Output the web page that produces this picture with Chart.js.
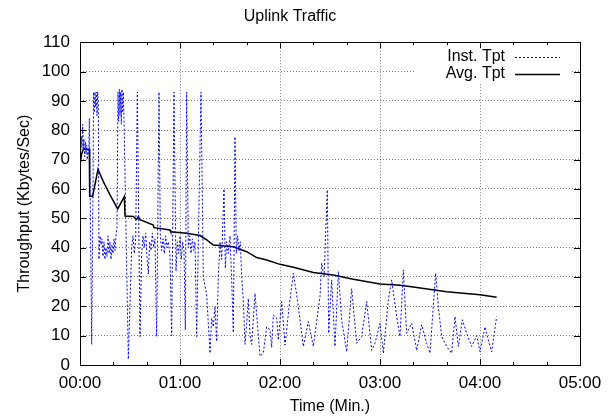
<!DOCTYPE html>
<html>
<head>
<meta charset="utf-8">
<script src="https://cdn.jsdelivr.net/npm/chart.js@4.4.0/dist/chart.umd.min.js"></script>
<style>
    body {
        margin: 0;
        background: #fff;
    }
    .container {
        width: 616px;
        height: 416px;
    }
</style>
</head>
<body>
<div class="container">
    <canvas id="myChart" width="616" height="416"></canvas>
</div>
<script>
    // time in seconds, throughput in Kbytes/Sec
    const instTime = [
        0, 0.4, 0.8, 1.2, 1.6, 2, 2.4, 2.8, 3.2, 3.6,
        4, 4.4, 4.8, 5.2, 5.6, 6, 7, 7.8, 8.2, 8.6,
        9, 9.4, 9.8, 10.2, 10.6, 11, 11.4, 12, 12.6, 13.2,
        13.8, 14.4, 15, 15.6, 16.2, 16.8, 17.4, 18, 18.6, 19.2,
        19.8, 20.4, 21, 21.6, 22.2, 22.8, 23.2, 23.6, 24, 24.4,
        24.8, 25.2, 25.6, 26, 26.4, 29, 31, 31.8, 32.6, 33.4,
        34.4, 36, 37, 37.8, 38.6, 39.4, 40.2, 41, 41.8, 42.6,
        43.4, 44.2, 45, 46, 47.4, 48.2, 49, 49.8, 50.6, 51.4,
        52.2, 53, 54, 55, 56.4, 57.6, 58.4, 59.2, 60, 60.8,
        61.6, 62.4, 63.2, 64, 65, 65.8, 66.6, 67.4, 68.2, 69,
        70, 72.6, 74, 76, 78, 79, 80, 81, 82, 83,
        84, 85, 86.4, 87.2, 88, 89, 90, 91, 92, 93,
        93.8, 94.6, 95.4, 96.2, 97, 98, 99, 100, 101, 102,
        103, 105, 108, 110, 112, 114, 115, 116, 118, 119,
        121, 123, 125.5, 128, 130, 132, 134, 137, 140, 142,
        144, 145, 146.4, 148.4, 149.2, 151, 153, 155, 157, 160,
        163, 166, 169, 172, 175, 177, 180, 182, 185, 187,
        190, 192, 194, 196, 199, 202, 205, 208, 210, 213.4,
        215, 217, 220, 223, 225, 227, 229.4, 232, 235, 238,
        240, 243, 245, 247, 250
    ]
    const instTpt = [
        50, 72, 78, 74, 82, 73, 77, 71, 76, 72,
        75, 70, 74, 72, 84, 66, 7, 60, 93, 86,
        93, 88, 93, 85, 93, 89, 36, 44, 41, 43,
        37, 42, 36, 40, 37, 44, 38, 42, 36, 41,
        38, 43, 39, 44, 47, 93, 83, 94, 85, 93,
        82, 94, 86, 93, 84, 2, 40, 44, 38, 43,
        93, 9.7, 38, 44, 40, 45, 37, 31, 42, 39,
        45, 40, 43, 9.7, 93, 44, 39, 43, 38, 44,
        40, 42, 37, 10, 93, 32, 42, 38, 44, 36,
        42, 39, 12, 93, 40, 44, 38, 43, 39, 42,
        9.7, 93, 30, 24, 4, 16, 13, 20, 8, 30,
        42, 36, 60, 33, 42, 38, 44, 29, 11, 77.8,
        38, 44, 39, 42, 30, 22, 7, 14, 22.7, 10,
        7, 24.4, 3, 4, 13, 12, 6, 17, 16, 8.5,
        21.6, 6.8, 20, 31.3, 24, 15.4, 6.3, 14.8, 6.3, 15,
        23.3, 34.7, 30, 59.7, 10.8, 29, 6.3, 31.8, 15.4, 4.5,
        26, 7.4, 9.7, 21.6, 5, 7.4, 14.2, 4, 22.2, 29,
        16.5, 9.7, 32.4, 10.8, 14.2, 5, 13.7, 7.4, 4, 31.3,
        20, 9.7, 6.3, 4, 16.5, 6.3, 15.4, 10.8, 6.3, 10,
        4.5, 13, 8.5, 4.5, 16.5
    ]
    const avgTime = [
        0, 1, 2, 5.6, 5.8, 7.6, 10.8, 14, 18, 22.6,
        26.6, 27, 32, 34, 35, 36, 44, 44.4, 54, 54.4,
        64, 72, 76, 80, 92, 100, 106, 112, 120, 128,
        140, 152, 164, 180, 192, 200, 220, 240, 250
    ]
    const avgTpt = [
        68, 72, 73.5, 73.5, 57.5, 57.5, 66.7, 62.5, 58, 53.2,
        57.4, 50.8, 50.6, 49.6, 50.5, 49.5, 47.7, 46.8, 46, 45.4,
        44.9, 44.1, 42.6, 40.9, 40.3, 38.6, 36.6, 35.8, 34.3, 33.3,
        31.5, 30.7, 29.2, 27.6, 27.2, 26.6, 25, 23.9, 23.1
    ]
    const timeLabels = ['00:00', '01:00', '02:00', '03:00', '04:00', '05:00']

    const font = "'Liberation Sans', Arial, sans-serif"
    const gridColor = 'rgba(0, 0, 0, 0.5)'

    Chart.defaults.font.family = font
    Chart.defaults.color = '#000'

    // gnuplot style box, inward ticks and key
    const framePlugin = {
        id: 'frame',
        beforeDatasetsDraw(chart) {
            const ctx = chart.ctx
            ctx.save()
            ctx.fillStyle = '#fff'
            ctx.fillRect(415, 44, 155, 38)
            ctx.font = '16px ' + font
            ctx.textAlign = 'right'
            ctx.textBaseline = 'middle'
            ctx.fillStyle = '#000'
            const rows = [56.5, 73.5]
            chart.data.datasets.forEach((ds, i) => {
                const y = rows[i]
                ctx.fillText(ds.label, 505, y)
                ctx.strokeStyle = ds.borderColor
                ctx.lineWidth = ds.borderWidth
                ctx.setLineDash(ds.borderDash || [])
                ctx.beginPath()
                ctx.moveTo(515, Math.round(y) + 0.5)
                ctx.lineTo(560, Math.round(y) + 0.5)
                ctx.stroke()
            })
            ctx.restore()
        },
        afterDatasetsDraw(chart) {
            const {ctx, chartArea: a} = chart
            const x = chart.scales.x
            const y = chart.scales.y
            ctx.save()
            ctx.strokeStyle = '#000'
            ctx.lineWidth = 1
            ctx.beginPath()
            for (let v = 20; v < 300; v += 20) {
                const px = Math.round(x.getPixelForValue(v)) + 0.5
                const len = v % 60 === 0 ? 6 : 3
                ctx.moveTo(px, a.bottom)
                ctx.lineTo(px, a.bottom - len)
                ctx.moveTo(px, a.top)
                ctx.lineTo(px, a.top + len)
            }
            for (let v = 10; v < 110; v += 10) {
                const py = Math.round(y.getPixelForValue(v)) + 0.5
                ctx.moveTo(a.left, py)
                ctx.lineTo(a.left + 6, py)
                ctx.moveTo(a.right, py)
                ctx.lineTo(a.right - 6, py)
            }
            ctx.stroke()
            ctx.strokeRect(Math.round(a.left) + 0.5, Math.round(a.top) + 0.5,
                Math.round(a.right - a.left), Math.round(a.bottom - a.top))
            ctx.restore()
        }
    }

    var ctx = document.getElementById('myChart').getContext('2d');
    var chart = new Chart(ctx, {
        type: 'line',
        data: {
            datasets: [{
                label: 'Inst. Tpt',
                data: instTime.map((t, i) => ({x: t, y: instTpt[i]})),
                borderColor: 'rgb(0, 0, 255)',
                borderWidth: 1,
                borderDash: [2, 2],
                pointRadius: 0,
                tension: 0
            }, {
                label: 'Avg. Tpt',
                data: avgTime.map((t, i) => ({x: t, y: avgTpt[i]})),
                borderColor: '#000',
                borderWidth: 1.5,
                pointRadius: 0,
                tension: 0
            }]
        },
        options: {
            responsive: false,
            maintainAspectRatio: false,
            animation: false,
            layout: {
                padding: {left: 0, right: 36, top: 0, bottom: 0}
            },
            plugins: {
                legend: {display: false},
                tooltip: {enabled: false},
                title: {
                    display: true,
                    text: 'Uplink Traffic',
                    color: '#000',
                    font: {size: 16, weight: 'normal'},
                    padding: {top: 7, bottom: 16}
                }
            },
            scales: {
                x: {
                    type: 'linear',
                    min: 0,
                    max: 300,
                    afterFit: s => { s.height = 51 },
                    ticks: {
                        stepSize: 20,
                        autoSkip: false,
                        maxRotation: 0,
                        padding: 8,
                        font: {size: 17},
                        callback: v => v % 60 === 0 ? timeLabels[v / 60] : ''
                    },
                    grid: {
                        drawTicks: false,
                        color: c => (c.tick && c.tick.value % 60 === 0 && c.tick.value > 0 && c.tick.value < 300) ? gridColor : 'rgba(0,0,0,0)'
                    },
                    border: {display: false, dash: [1, 2]},
                    title: {
                        display: true,
                        text: 'Time (Min.)',
                        font: {size: 16},
                        padding: {top: 0, bottom: 0}
                    }
                },
                y: {
                    min: 0,
                    max: 110,
                    afterFit: s => { s.width = 80 },
                    ticks: {
                        stepSize: 10,
                        padding: 10,
                        font: {size: 17}
                    },
                    grid: {
                        drawTicks: false,
                        color: c => (c.tick && c.tick.value > 0 && c.tick.value < 110) ? gridColor : 'rgba(0,0,0,0)'
                    },
                    border: {display: false, dash: [1, 2]},
                    title: {
                        display: true,
                        text: 'Throughput (Kbytes/Sec)',
                        font: {size: 16},
                        padding: {top: 15, bottom: 0}
                    }
                }
            }
        },
        plugins: [framePlugin]
    });
</script>
</body>
</html>
